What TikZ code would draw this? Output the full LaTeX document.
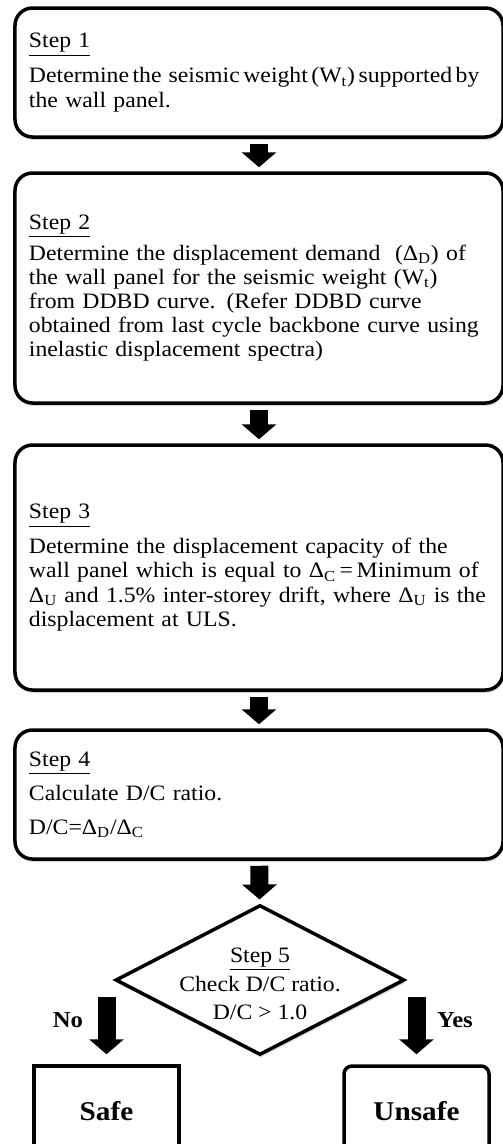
\documentclass[tikz,border=0pt]{standalone}
\usepackage{fontspec}
\setmainfont{Liberation Serif}[FakeStretch=1.08]
\usetikzlibrary{arrows.meta,shapes.geometric,shadows}
\begin{document}
\begin{tikzpicture}[
  shade/.style={drop shadow={opacity=0.3,shadow xshift=0.02cm,shadow yshift=-0.06cm}},
  stepbox/.style={draw,line width=0.07cm,rounded corners=0.35cm,fill=white,shade,
    text width=9.2cm,inner xsep=0.28cm,align=left,font=\fontsize{12.5pt}{13.7pt}\selectfont},
  endbox/.style={draw,line width=0.07cm,fill=white,shade,minimum width=2.9cm,
    minimum height=1.8cm,font=\fontsize{15.4pt}{17pt}\selectfont\bfseries},
  bigarrow/.style={line width=0.36cm,-{Triangle[length=0.3cm,width=0.68cm]},
    shorten <=0.1cm,shorten >=0.08cm}]
\useasboundingbox (0,0) rectangle (10.04,-22.88);
\node[stepbox,minimum height=2.58cm] (step1) at (5.18,-1.45) {\underline{Step 1}\\[0.22cm]
\mbox{\spaceskip=0.16em Determine the \ seismic weight (W\textsubscript{t}) supported by}\\
the wall panel.};
\node[stepbox,minimum height=4.6cm] (step2) at (5.18,-5.76) {\underline{Step 2}\\[0.14cm]
Determine the displacement demand \ (Δ\textsubscript{D}) of\\
the wall panel for the seismic weight (W\textsubscript{t})\\
from DDBD curve. (Refer DDBD curve\\
obtained from last cycle backbone curve using\\
inelastic displacement spectra)};
\node[stepbox,minimum height=4.9cm] (step3) at (5.18,-11.35) {\underline{Step 3}\\[0.22cm]
Determine the displacement capacity of the\\
wall panel which is equal to Δ\textsubscript{C}\,=\,Minimum of\\
\mbox{Δ\textsubscript{U} and 1.5\% inter-storey drift, where Δ\textsubscript{U} is the}\\
displacement at ULS.};
\node[stepbox,minimum height=2.58cm] (step4) at (5.18,-15.89) {\underline{Step 4}\\[0.2cm]
Calculate D/C ratio.\\[0.2cm]
D/C=Δ\textsubscript{D}/Δ\textsubscript{C}};
\node[diamond,draw,line width=0.07cm,fill=white,shade,minimum width=5.78cm,minimum height=3cm,
  inner sep=0pt] (step5) at (5.2,-19.6) {};
\node[align=center,font=\fontsize{12.5pt}{13.7pt}\selectfont] (check) at (5.2,-19.68)
  {\underline{Step 5}\\[0.09cm] Check D/C ratio.\\[0.09cm] D/C > 1.0};
\node[endbox] (safe) at (2.13,-22.22) {Safe};
\node[endbox,rounded corners=0.16cm] (unsafe) at (8.33,-22.22) {Unsafe};
\coordinate (nostart) at (2.13,-19.94);
\coordinate (yesstart) at (8.33,-19.94);
\node[font=\fontsize{13pt}{15pt}\selectfont\bfseries] (no) at (1.36,-20.4) {No};
\node[font=\fontsize{13pt}{15pt}\selectfont\bfseries] (yes) at (9.1,-20.4) {Yes};
\draw[bigarrow] (step1) -- (step2);
\draw[bigarrow] (step2) -- (step3);
\draw[bigarrow] (step3) -- (step4);
\draw[bigarrow] (step4) -- (step5);
\draw[bigarrow,shorten <=0pt,shorten >=0.2cm] (nostart) -- (safe);
\draw[bigarrow,shorten <=0pt,shorten >=0.2cm] (yesstart) -- (unsafe);
\end{tikzpicture}
\end{document}
